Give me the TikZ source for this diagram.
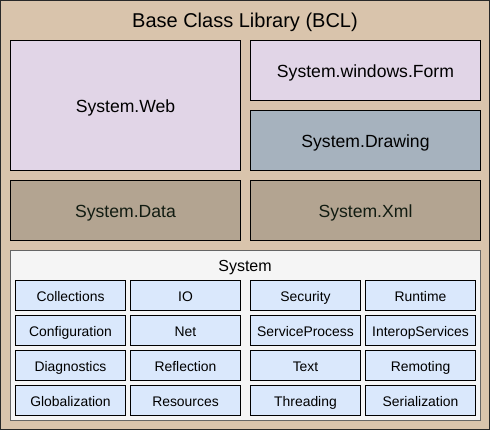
\documentclass[tikz,border=0pt]{standalone}
\usepackage{fontspec}
\setmainfont{Liberation Sans}
\definecolor{bclback}{RGB}{217,196,172}
\definecolor{bclline}{RGB}{40,40,40}
\definecolor{webfill}{RGB}{225,213,231}
\definecolor{drawfill}{RGB}{166,178,190}
\definecolor{datafill}{RGB}{179,164,145}
\definecolor{datatext}{RGB}{18,28,18}
\definecolor{sysfill}{RGB}{245,245,245}
\definecolor{sysline}{RGB}{102,102,102}
\definecolor{nsfill}{RGB}{218,232,252}
\tikzset{
  libbox/.style={draw=black,line width=1pt,inner sep=0pt,minimum width=230pt,
    text height=15.5pt,text depth=1pt,font=\fontsize{17.6}{20}\selectfont},
  nsbox/.style={draw=black,fill=nsfill,line width=1pt,inner sep=0pt,
    minimum width=110pt,minimum height=30pt,text height=12.5pt,text depth=1.5pt,
    font=\fontsize{13.9}{16}\selectfont},
}
\newcommand{\nscell}[4]{%
  \node[nsbox] (#1) at (#2,#3) {#4};
}

\begin{document}
\begin{tikzpicture}[x=1pt,y=-1pt]
    \useasboundingbox (0,0) rectangle (491,431);
    \draw[bclline,fill=bclback,line width=1pt] (0.5,0.5) rectangle (489.5,429.5);
    \node[anchor=base,inner sep=0pt,font=\fontsize{20}{24}\selectfont] (bcl) at (245,27.3) {Base Class Library (BCL)};
    % upper libraries
    \node[libbox,fill=webfill,minimum height=130pt] (web) at (125.5,105) {System.Web};
    \node[libbox,fill=webfill,minimum height=60pt] (form) at (365.5,70) {System.windows.Form};
    \node[libbox,fill=drawfill,minimum height=60pt] (drawing) at (365.5,140) {System.Drawing};
    \node[libbox,fill=datafill,minimum height=60pt,text=datatext] (data) at (125.5,210) {System.Data};
    \node[libbox,fill=datafill,minimum height=60pt,text=datatext] (xml) at (365.5,210) {System.Xml};
    % System namespace
    \node[draw=sysline,fill=sysfill,line width=1pt,inner sep=0pt,
      minimum width=470pt,minimum height=170pt] (system) at (245,335) {};
    \node[anchor=base,inner sep=0pt,font=\fontsize{16}{19}\selectfont] (systitle) at (245,271.7) {System};
    \nscell{coll}{70.5}{295.5}{Collections}
    \nscell{io}{185.5}{295.5}{IO}
    \nscell{secu}{305.5}{295.5}{Security}
    \nscell{runt}{420.5}{295.5}{Runtime}
    \nscell{conf}{70.5}{330.5}{Configuration}
    \nscell{net}{185.5}{330.5}{Net}
    \nscell{serv}{305.5}{330.5}{ServiceProcess}
    \nscell{inter}{420.5}{330.5}{InteropServices}
    \nscell{diag}{70.5}{365.5}{Diagnostics}
    \nscell{refl}{185.5}{365.5}{Reflection}
    \nscell{text}{305.5}{365.5}{Text}
    \nscell{remo}{420.5}{365.5}{Remoting}
    \nscell{glob}{70.5}{400.5}{Globalization}
    \nscell{reso}{185.5}{400.5}{Resources}
    \nscell{thre}{305.5}{400.5}{Threading}
    \nscell{seri}{420.5}{400.5}{Serialization}
  \end{tikzpicture}
\end{document}
